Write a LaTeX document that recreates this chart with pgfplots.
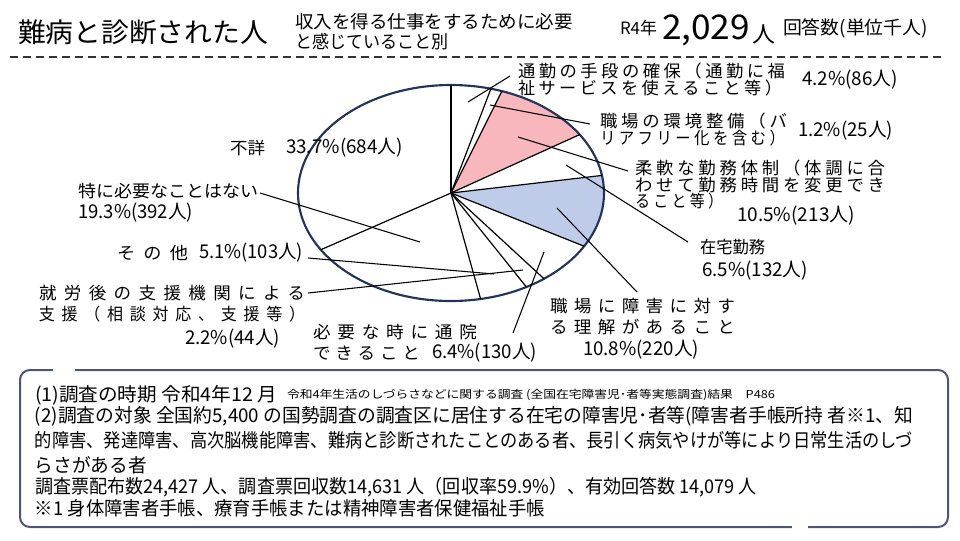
\documentclass[border=0pt]{standalone}
\usepackage{fontspec}
\setmainfont{Noto Sans CJK JP}
\usepackage{graphicx}
\usepackage{pgfplots}
\pgfplotsset{compat=1.18}
\newlength\pxu \setlength\pxu{0.75pt}
\newcommand\rb[2]{\resizebox{#1\pxu}{\height}{#2}}
\newcommand\lsp[2]{{\addfontfeature{LetterSpace=#1}#2}}
\definecolor{pinkc}{HTML}{F7B7BC}
\definecolor{bluec}{HTML}{BECCEA}
\definecolor{navy}{HTML}{23345B}
\definecolor{boxc}{HTML}{4B5479}
\tikzset{
  lab/.style={anchor=west, inner sep=0pt, outer sep=0pt},
  fA/.style={font=\fontsize{12.75pt}{15pt}\selectfont},
  fN/.style={font=\fontsize{14.25pt}{16pt}\selectfont},
  fB/.style={font=\fontsize{14.25pt}{16pt}\selectfont},
  ld/.style={black, line width=0.8pt},
  rad/.style={black, line width=0.9pt},
}
\begin{document}
\begin{tikzpicture}
\begin{axis}[x=0.75pt, y=0.75pt, xmin=0, xmax=960, ymin=0, ymax=540,
  y dir=reverse, hide axis, clip=false, enlargelimits=false]
% ---- header
\node[lab, font=\fontsize{20.25pt}{22pt}\selectfont] at (axis cs:18,32) {\rb{250}{難病と診断された人}};
\node[lab, font=\fontsize{13.5pt}{15pt}\selectfont] at (axis cs:295,22) {\rb{278}{収入を得る仕事をするために必要}};
\node[lab, font=\fontsize{13.5pt}{15pt}\selectfont] at (axis cs:295,42) {\rb{153}{と感じていること別}};
\node[lab, font=\fontsize{12.75pt}{15pt}\selectfont] at (axis cs:620,28) {\rb{37}{R4年}};
\node[lab, font=\fontsize{25.5pt}{28pt}\selectfont] at (axis cs:662,30) {\rb{88}{2,029}};
\node[lab, font=\fontsize{16.5pt}{18pt}\selectfont] at (axis cs:752,34) {\rb{23}{人}};
\node[lab, font=\fontsize{13.9pt}{16pt}\selectfont] at (axis cs:783,28) {\rb{145}{回答数(単位千人)}};
\draw[black!80, line width=1.5pt, dash pattern=on 6pt off 3.75pt] (axis cs:10,57) -- (axis cs:945,57);
% ---- pie: shares (%) 4.2, 1.2, 10.5, 6.5, 10.8, 6.4, 2.2, 5.1, 19.3, 33.7 clockwise from top
\fill[pinkc] (axis cs:451,193) -- ++({90-3.6*5.4}:114.75pt and 81pt)
  arc[start angle={90-3.6*5.4}, end angle={90-3.6*15.9}, x radius=114.75pt, y radius=81pt] -- cycle;
\fill[bluec] (axis cs:451,193) -- ++({90-3.6*22.4}:114.75pt and 81pt)
  arc[start angle={90-3.6*22.4}, end angle={90-3.6*33.2}, x radius=114.75pt, y radius=81pt] -- cycle;
\draw[navy, line width=1.6pt] (axis cs:451,193) ellipse [x radius=114.75pt, y radius=81pt];
\draw[rad] (axis cs:451,193) -- ++({90}:114.75pt and 81pt);
\draw[rad] (axis cs:451,193) -- ++({90-3.6*4.2}:114.75pt and 81pt);
\draw[rad] (axis cs:451,193) -- ++({90-3.6*5.4}:114.75pt and 81pt);
\draw[rad] (axis cs:451,193) -- ++({90-3.6*15.9}:114.75pt and 81pt);
\draw[rad] (axis cs:451,193) -- ++({90-3.6*22.4}:114.75pt and 81pt);
\draw[rad] (axis cs:451,193) -- ++({90-3.6*33.2}:114.75pt and 81pt);
\draw[rad] (axis cs:451,193) -- ++({90-3.6*39.6}:114.75pt and 81pt);
\draw[rad] (axis cs:451,193) -- ++({90-3.6*41.8}:114.75pt and 81pt);
\draw[rad] (axis cs:451,193) -- ++({90-3.6*46.9}:114.75pt and 81pt);
\draw[rad] (axis cs:451,193) -- ++({90-3.6*66.2}:114.75pt and 81pt);
% ---- leaders
\draw[ld] (axis cs:510,76) -- (axis cs:468,102);
\draw[ld] (axis cs:590,124) -- (axis cs:490,105);
\draw[ld] (axis cs:628,171) -- (axis cs:518,137);
\draw[ld] (axis cs:688,242) -- (axis cs:566,165);
\draw[ld] (axis cs:637,292) -- (axis cs:557,208);
\draw[ld] (axis cs:513,333) -- (axis cs:544,252);
\draw[ld] (axis cs:308,293) -- (axis cs:523,270);
\draw[ld] (axis cs:308,258) -- (axis cs:494,274);
\draw[ld] (axis cs:260,193) -- (axis cs:420,242);
% ---- pie labels
\node[lab, fA] at (axis cs:518,71) {\rb{267}{\lsp{20}{通勤の手段の確保（通勤に福}}};
\node[lab, fA] at (axis cs:518,88) {\rb{264}{\lsp{20}{祉サービスを使えること等）}}};
\node[lab, fN] at (axis cs:802,80) {\rb{96}{4.2\%(86人)}};
\node[lab, fA] at (axis cs:600,121) {\rb{187}{\lsp{22}{職場の環境整備（バ}}};
\node[lab, fA] at (axis cs:600,138) {\rb{185}{\lsp{22}{リアフリー化を含む）}}};
\node[lab, fN] at (axis cs:798,131) {\rb{95}{1.2\%(25人)}};
\node[lab, fA] at (axis cs:635,168) {\rb{250}{\lsp{22}{柔軟な勤務体制（体調に合}}};
\node[lab, fA] at (axis cs:635,185) {\rb{250}{\lsp{22}{わせて勤務時間を変更でき}}};
\node[lab, fA] at (axis cs:635,201) {\rb{88}{\lsp{22}{ること等）}}};
\node[lab, fN] at (axis cs:737,216) {\rb{118}{10.5\%(213人)}};
\node[lab, fA] at (axis cs:700,247) {\rb{65}{在宅勤務}};
\node[lab, fN] at (axis cs:702,271) {\rb{106}{6.5\%(132人)}};
\node[lab, fA] at (axis cs:550,306) {\rb{185}{\lsp{36}{職場に障害に対す}}};
\node[lab, fA] at (axis cs:550,327) {\rb{185}{\lsp{36}{る理解があること}}};
\node[lab, fN] at (axis cs:583,350) {\rb{116}{10.8\%(220人)}};
\node[lab, fA] at (axis cs:313,332) {\rb{164}{\lsp{38}{必要な時に通院}}};
\node[lab, fA] at (axis cs:313,353) {\rb{107}{\lsp{28}{できること}}};
\node[lab, fN] at (axis cs:432,353) {\rb{105}{6.4\%(130人)}};
\node[lab, fA] at (axis cs:39,293) {\rb{266}{\lsp{42}{就労後の支援機関による}}};
\node[lab, fA] at (axis cs:39,314) {\rb{266}{\lsp{42}{支援（相談対応、支援等）}}};
\node[lab, fN] at (axis cs:185,339) {\rb{95}{2.2\%(44人)}};
\node[lab, fA] at (axis cs:117,253) {\rb{71}{\lsp{45}{その他}}};
\node[lab, fN] at (axis cs:199,253) {\rb{104}{5.1\%(103人)}};
\node[lab, fA] at (axis cs:78,191) {\rb{180}{特に必要なことはない}};
\node[lab, fN] at (axis cs:78,213) {\rb{115}{19.3\%(392人)}};
\node[lab, fA] at (axis cs:230,148) {\rb{35}{不詳}};
\node[lab, fN] at (axis cs:286,148) {\rb{117}{33.7\%(684人)}};
% ---- notes box
\draw[boxc, line width=1.5pt, rounded corners=7.5pt] (axis cs:20,370) rectangle (axis cs:948,527);
\draw[white, line width=3pt] (axis cs:53,370) -- (axis cs:75,370);
\draw[white, line width=3pt] (axis cs:792,527) -- (axis cs:808,527);
\node[lab, fB] at (axis cs:35,395) {\rb{242}{(1)調査の時期 令和4年12 月}};
\node[lab, font=\fontsize{8.25pt}{9pt}\selectfont] at (axis cs:287,395) {\rb{488}{令和4年生活のしづらさなどに関する調査 (全国在宅障害児･者等実態調査)結果　P486}};
\node[lab, fB] at (axis cs:35,416) {\rb{878}{(2)調査の対象 全国約5,400 の国勢調査の調査区に居住する在宅の障害児･者等(障害者手帳所持 者※1、知}};
\node[lab, fB] at (axis cs:35,440) {\rb{878}{的障害、発達障害、高次脳機能障害、難病と診断されたことのある者、長引く病気やけが等により日常生活のしづ}};
\node[lab, fB] at (axis cs:35,465) {\rb{112}{らさがある者}};
\node[lab, fB] at (axis cs:35,487) {\rb{722}{調査票配布数24,427 人、調査票回収数14,631 人（回収率59.9\%）、有効回答数 14,079 人}};
\node[lab, fB] at (axis cs:35,508) {\rb{510}{※1 身体障害者手帳、療育手帳または精神障害者保健福祉手帳}};
\end{axis}
\pgfresetboundingbox
\path[use as bounding box] (current axis.south west) rectangle (current axis.north east);
\end{tikzpicture}
\end{document}
